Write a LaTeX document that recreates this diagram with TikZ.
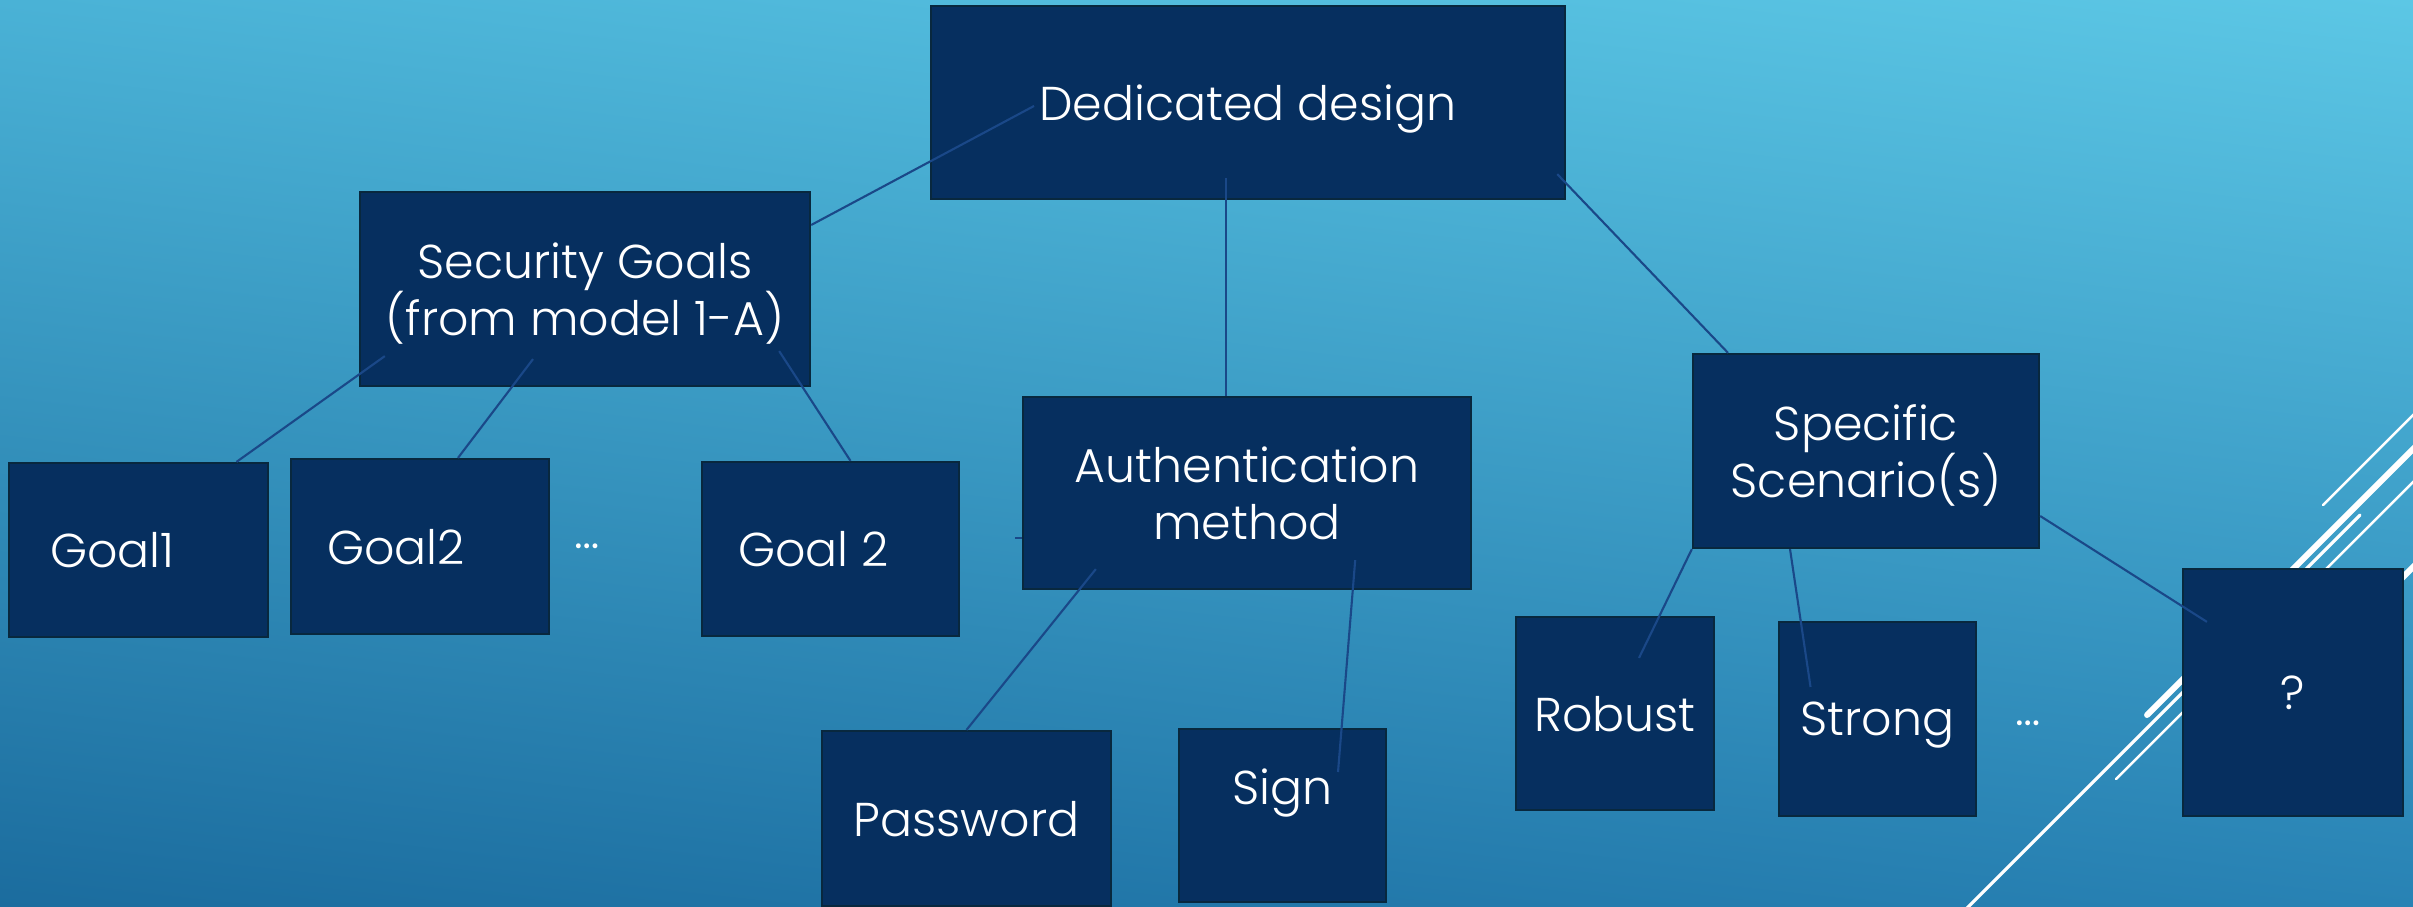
\documentclass[tikz,border=0pt]{standalone}
\usepackage{fontspec}
\setmainfont{Poppins}[UprightFont=* Light]
\usetikzlibrary{calc,shadings}

\definecolor{boxblue}{RGB}{6,47,95}
\definecolor{boxedge}{RGB}{8,40,62}
\definecolor{linkblue}{RGB}{26,72,136}
\definecolor{bgtl}{RGB}{74,178,214}
\definecolor{bgtr}{RGB}{92,199,229}
\definecolor{bgbl}{RGB}{27,108,158}
\definecolor{bgbr}{RGB}{40,130,180}

\begin{document}
\begin{tikzpicture}[x=0.01cm,y=-0.01cm,
  box/.style={rectangle,fill=boxblue,draw=boxedge,line width=0.6pt,text=white,align=center,inner sep=0pt,text depth=0pt},
  link/.style={draw=linkblue,line width=0.6pt},
  deco/.style={white,line cap=round},
  dots/.style={text=white},
  font=\fontsize{13.5}{16.4}\selectfont]
\useasboundingbox (0,0) rectangle (2413,907);
\clip (0,0) rectangle (2413,907);
\shade[upper left=bgtl,upper right=bgtr,lower left=bgbl,lower right=bgbr] (0,0) rectangle (2413,907);
% white slashes at the right edge
\foreach \a/\b/\w in {2323/505/0.7pt, 2147/715/1.7pt, 1960/915/0.9pt, 2116/779/0.7pt, 2250/730/1.7pt}
  \draw[deco,line width=\w] (\a,\b) -- ++(400,-400);

\node[box,minimum width=6.34cm,minimum height=1.93cm] (dd) at (1248,102.5) {Dedicated design};
\node[box,minimum width=4.50cm,minimum height=1.94cm] (sec) at (585,289) {Security Goals\\(from model 1-A)};
\node[box,minimum width=2.59cm,minimum height=1.74cm] (g1) at (138.5,550) {Goal1\hspace*{0.52cm}};
\node[box,minimum width=2.58cm,minimum height=1.75cm] (g2) at (420,546.5) {Goal2\hspace*{0.48cm}};
\node[dots] (dots1) at (587,546) {\ldots};
\node[box,minimum width=2.57cm,minimum height=1.74cm] (gn) at (830.5,549) {Goal 2\hspace*{0.34cm}};
\node[box,minimum width=4.48cm,minimum height=1.92cm] (auth) at (1247,493) {Authentication\\method};
\node[box,minimum width=2.89cm,minimum height=1.75cm] (pw) at (966.5,818.5) {Password};
\node[box,minimum width=2.07cm,minimum height=1.73cm] (sign) at (1282.5,815.5) {\raisebox{0.57cm}{Sign}};
\node[box,minimum width=3.46cm,minimum height=1.94cm] (spec) at (1866,451) {Specific\\Scenario(s)};
\node[box,minimum width=1.98cm,minimum height=1.93cm] (rob) at (1615,713.5) {Robust};
\node[box,minimum width=1.97cm,minimum height=1.94cm] (str) at (1877.5,719) {Strong};
\node[dots] (dots2) at (2028,723) {\ldots};
\node[box,minimum width=2.20cm,minimum height=2.47cm] (q) at (2293,692.5) {?};

\draw[link] ($(dd)+(-214,3.5)$) -- ($(sec.east)+(0,-64)$);
\draw[link] ($(dd.south)+(-22,-22)$) -- ($(auth.north)+(-21,0)$);
\draw[link] ($(dd.south east)+(-9,-26)$) -- ($(spec.north)+(-138,0)$);
\draw[link] ($(sec.south west)+(26,-31)$) -- ($(g1.north)+(98,0)$);
\draw[link] ($(sec.south)+(-52,-28)$) -- ($(g2.north)+(38,0)$);
\draw[link] ($(sec.south east)+(-32,-36)$) -- ($(gn.north)+(20,0)$);
\draw[link] ($(auth.south west)+(74,-21)$) -- (pw.north);
\draw[link] ($(auth.south east)+(-117,-30)$) -- ($(sign)+(55.5,-43.5)$);
\draw[link] (spec.south west) -- ($(rob.north)+(24,42)$);
\draw[link] ($(spec.south)+(-76,0)$) -- ($(str.north)+(-67,66)$);
\draw[link] ($(spec.east)+(0,65)$) -- ($(q.north west)+(25,54)$);
\draw[link] ($(auth.west)+(0,45)$) -- ++(-7,0);
\end{tikzpicture}
\end{document}
